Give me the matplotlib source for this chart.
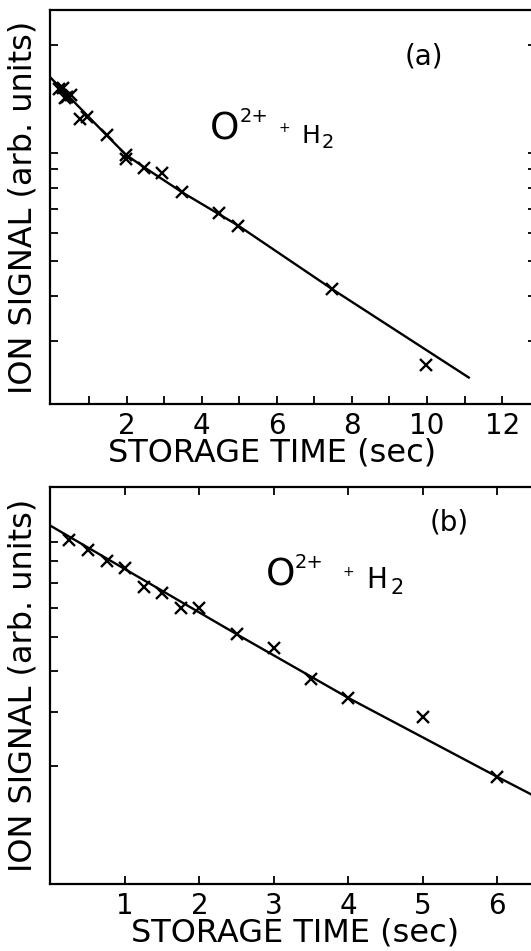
import numpy as np
import matplotlib
matplotlib.use("Agg")
import matplotlib.pyplot as plt
from matplotlib.ticker import FixedLocator, NullFormatter, NullLocator

# panel (a): O2+ + H2, storage time up to 10 s
t_a = [0.21, 0.31, 0.36, 0.41, 0.51, 0.76, 0.95, 1.47, 1.99, 1.99,
       2.47, 2.95, 3.49, 4.47, 4.97, 7.47, 9.96]
sig_a = [15.1, 15.2, 14.2, 14.3, 14.5, 12.4, 12.6, 11.2, 9.87, 9.6,
         9.07, 8.82, 7.76, 6.8, 6.28, 4.18, 2.56]
fit_t_a = [-0.07, 0.97, 1.47, 1.99, 2.5, 3.49, 4.97, 7.47, 11.11]
fit_sig_a = [16.4, 12.67, 11.2, 9.87, 9.08, 7.76, 6.28, 4.18, 2.37]

# panel (b): O2+ + H2, storage time up to 6 s
t_b = [0.25, 0.5, 0.75, 1.0, 1.25, 1.5, 1.75, 2.0, 2.5, 3.0, 3.5, 4.0, 5.0, 6.0]
sig_b = [10.1, 9.53, 9.02, 8.66, 7.85, 7.58, 6.98, 7.0, 6.09, 5.64,
         4.79, 4.32, 3.89, 2.83]
fit_t_b = [-0.01, 2.5, 4.0, 6.0, 6.6]
fit_sig_b = [10.9, 6.08, 4.32, 2.83, 2.5]

xticks_a = list(range(1, 13))
xlabels_a = [str(v) if v % 2 == 0 else "" for v in xticks_a]
xticks_b = [1, 2, 3, 4, 5, 6]
yticks_a = [3, 4, 5, 6, 7, 8, 9, 10, 20]
yticks_b = [3, 4, 5, 6, 7, 8, 9, 10]

W, H = 531, 951
fig = plt.figure(figsize=(W / 100, H / 100), dpi=100)

def px_box(x0, y0, x1, y1):
    return [x0 / W, 1 - y1 / H, (x1 - x0) / W, (y1 - y0) / H]

ax1 = fig.add_axes(px_box(49.5, 10, 536, 404))
ax2 = fig.add_axes(px_box(50, 487, 540, 884))

for ax in (ax1, ax2):
    ax.set_yscale("log")
    for s in ax.spines.values():
        s.set_linewidth(1.6)
    ax.yaxis.set_minor_locator(NullLocator())
    ax.yaxis.set_major_formatter(NullFormatter())
    ax.yaxis.set_minor_formatter(NullFormatter())
    ax.tick_params(direction="in", length=6, width=1.3, labelsize=20, pad=6)
    ax.set_ylabel("ION SIGNAL (arb. units)", fontsize=23, labelpad=2)
    ax.set_xlabel("STORAGE TIME (sec)", fontsize=23, labelpad=-2)

# (a)
ax1.plot(fit_t_a, fit_sig_a, color="k", lw=1.7)
ax1.plot(t_a, sig_a, "x", color="k", ms=8, mew=1.7)
ax1.set_xlim(-0.05, 12.9)
ax1.set_ylim(2.0, 25)
ax1.set_xticks(xticks_a)
ax1.set_xticklabels(xlabels_a)
ax1.yaxis.set_major_locator(FixedLocator(yticks_a))
ax1.tick_params(axis="y", left=True, right=True)
ax1.tick_params(axis="x", bottom=True, top=False)
ax1.xaxis.label.set_x(0.457)

# (b)
ax2.plot(fit_t_b, fit_sig_b, color="k", lw=1.7)
ax2.plot(t_b, sig_b, "x", color="k", ms=8, mew=1.7)
ax2.set_xlim(-0.01, 6.58)
ax2.set_ylim(1.59, 13.4)
ax2.set_xticks(xticks_b)
ax2.yaxis.set_major_locator(FixedLocator(yticks_b))
ax2.tick_params(axis="y", left=True, right=False)
ax2.tick_params(axis="x", bottom=True, top=True)

# reaction labels, placed in pixel positions (left edge, vertical centre)
def ptext(x, y, s, size, ha="left"):
    fig.text(x / W, 1 - y / H, s, fontsize=size, ha=ha, va="center")

ptext(424, 57, "(a)", 20, ha="center")
ptext(210, 130, "O", 27)
ptext(240, 116, "2+", 14)
ptext(279, 128, "+", 10)
ptext(301, 136, "H", 18)
ptext(322, 142, "2", 14)

ptext(449, 523, "(b)", 20, ha="center")
ptext(266, 576, "O", 27)
ptext(295, 563, "2+", 14)
ptext(343, 572, "+", 10)
ptext(366, 580, "H", 20)
ptext(390, 588, "2", 15)

fig.savefig("out.png", dpi=100)
